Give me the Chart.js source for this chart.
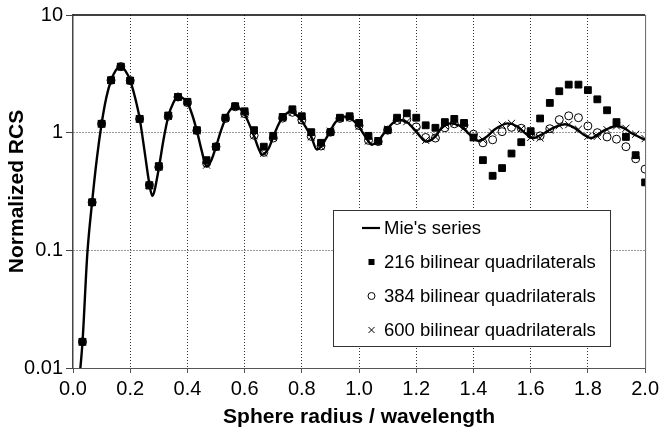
<!DOCTYPE html>
<html lang="en">
<head>
    <meta charset="UTF-8"/>
    <title>Normalized RCS</title>
    <script src="https://cdn.jsdelivr.net/npm/chart.js@4.4.0/dist/chart.umd.min.js"></script>
    <style>
        body { margin: 0; background: #fff; }
        #wrap { width: 663px; height: 432px; }
    </style>
</head>
<body>

<div id="wrap">
    <canvas id="chart" width="663" height="432"></canvas>
</div>

<script>

    // sphere radius / wavelength of the computed points
    const radius = [0.033, 0.067, 0.100, 0.133, 0.167, 0.200, 0.233, 0.267, 0.300, 0.333,
        0.367, 0.400, 0.433, 0.467, 0.500, 0.533, 0.567, 0.600, 0.633, 0.667,
        0.700, 0.733, 0.767, 0.800, 0.833, 0.867, 0.900, 0.933, 0.967, 1.000,
        1.033, 1.067, 1.100, 1.133, 1.167, 1.200, 1.233, 1.267, 1.300, 1.333,
        1.367, 1.400, 1.433, 1.467, 1.500, 1.533, 1.567, 1.600, 1.633, 1.667,
        1.700, 1.733, 1.767, 1.800, 1.833, 1.867, 1.900, 1.933, 1.967, 2.000];

    const quad216 = [0.0167, 0.256, 1.19, 2.79, 3.64, 2.77, 1.31, 0.355, 0.52, 1.40,
        2.01, 1.83, 1.05, 0.584, 0.76, 1.34, 1.68, 1.52, 1.05, 0.76,
        0.94, 1.36, 1.58, 1.38, 1.01, 0.82, 1.01, 1.34, 1.38, 1.21,
        0.94, 0.85, 1.05, 1.34, 1.46, 1.34, 1.155, 1.10, 1.23, 1.31,
        1.21, 0.91, 0.584, 0.43, 0.50, 0.665, 0.83, 1.03, 1.32, 1.79,
        2.25, 2.56, 2.56, 2.30, 1.92, 1.55, 1.23, 0.92, 0.644, 0.378];

    const quad384 = [0.0167, 0.256, 1.19, 2.79, 3.64, 2.77, 1.31, 0.36, 0.51, 1.38,
        2.01, 1.80, 1.04, 0.55, 0.76, 1.32, 1.66, 1.45, 0.95, 0.68,
        0.90, 1.33, 1.49, 1.28, 0.93, 0.77, 1.01, 1.32, 1.35, 1.15,
        0.86, 0.84, 1.05, 1.27, 1.30, 1.12, 0.91, 0.90, 1.10, 1.19,
        1.16, 0.97, 0.82, 0.87, 1.02, 1.11, 1.09, 0.97, 0.94, 1.08,
        1.29, 1.39, 1.34, 1.14, 1.00, 0.92, 0.88, 0.76, 0.60, 0.49];

    const quad600 = [0.0167, 0.256, 1.19, 2.79, 3.64, 2.77, 1.31, 0.36, 0.51, 1.38,
        2.01, 1.80, 1.04, 0.53, 0.76, 1.32, 1.66, 1.44, 0.94, 0.67,
        0.91, 1.34, 1.49, 1.27, 0.92, 0.76, 1.03, 1.32, 1.34, 1.13,
        0.85, 0.85, 1.07, 1.27, 1.24, 1.03, 0.86, 0.92, 1.14, 1.20,
        1.10, 0.91, 0.87, 1.01, 1.16, 1.20, 1.08, 0.91, 0.90, 1.05,
        1.15, 1.17, 1.07, 0.93, 0.93, 1.06, 1.14, 1.09, 0.97, 0.89];

    // Mie's series
    const mieX = [0.025, 0.0333, 0.05, 0.0667, 0.0833, 0.1, 0.1167, 0.1333, 0.15, 0.165,
        0.1833, 0.2, 0.2167, 0.2333, 0.25, 0.2667, 0.277, 0.2833, 0.3, 0.3167,
        0.3333, 0.35, 0.367, 0.3833, 0.4, 0.4167, 0.4333, 0.45, 0.467, 0.4833,
        0.5, 0.5167, 0.5333, 0.55, 0.5625, 0.5833, 0.6, 0.6167, 0.6333, 0.65,
        0.662, 0.6833, 0.7, 0.7167, 0.7333, 0.758, 0.7833, 0.8, 0.8167, 0.8333,
        0.852, 0.8667, 0.8833, 0.9, 0.9167, 0.948, 0.9667, 0.9833, 1.0, 1.0167,
        1.0333, 1.044, 1.0667, 1.0833, 1.1, 1.1167, 1.14, 1.1667, 1.1833, 1.2,
        1.2167, 1.235, 1.2667, 1.2833, 1.3, 1.32, 1.35, 1.3667, 1.3833, 1.4,
        1.417, 1.4333, 1.45, 1.4667, 1.4833, 1.52, 1.55, 1.5667, 1.5833, 1.61,
        1.6333, 1.65, 1.6667, 1.6833, 1.72, 1.75, 1.7667, 1.7833, 1.812, 1.8333,
        1.85, 1.8667, 1.9, 1.9333, 1.95, 1.9667, 2.0];

    const mieY = [0.0095, 0.0167, 0.093, 0.256, 0.6, 1.19, 2.0, 2.79, 3.4, 3.66,
        3.35, 2.77, 2.0, 1.31, 0.7, 0.37, 0.29, 0.31, 0.5, 0.88,
        1.38, 1.78, 2.02, 1.97, 1.8, 1.42, 1.03, 0.7, 0.515, 0.58,
        0.76, 1.03, 1.32, 1.57, 1.66, 1.6, 1.43, 1.17, 0.93, 0.72,
        0.65, 0.73, 0.92, 1.15, 1.35, 1.5, 1.4, 1.26, 1.08, 0.92,
        0.72, 0.76, 0.88, 1.04, 1.22, 1.37, 1.34, 1.25, 1.12, 0.97,
        0.84, 0.79, 0.85, 0.96, 1.08, 1.2, 1.28, 1.23, 1.13, 1.02,
        0.91, 0.84, 0.93, 1.06, 1.15, 1.2, 1.15, 1.08, 0.98, 0.91,
        0.85, 0.88, 0.94, 1.03, 1.1, 1.2, 1.14, 1.06, 0.98, 0.9,
        0.95, 1.0, 1.06, 1.11, 1.18, 1.11, 1.04, 0.97, 0.9, 0.96,
        1.02, 1.07, 1.14, 1.07, 1.0, 0.95, 0.87];

    const yTickValues = [0.01, 0.1, 1, 10];
    const yTickLabels = ['0.01', '0.1', '1', '10'];

    const legendLabels = ["Mie's series", '216 bilinear quadrilaterals',
        '384 bilinear quadrilaterals', '600 bilinear quadrilaterals'];

    const FONT = "'Liberation Sans', Arial, sans-serif";

    function pairs(xs, ys) {
        return xs.map((x, i) => ({x: x, y: ys[i]}));
    }

    // top and right frame lines plus the boxed legend inside the plot
    const framePlugin = {
        id: 'frame',
        afterDraw(chart) {
            const ctx = chart.ctx;
            const a = chart.chartArea;
            ctx.save();
            ctx.strokeStyle = '#000';
            ctx.lineWidth = 1.5;
            ctx.beginPath();
            ctx.moveTo(a.left, a.top);
            ctx.lineTo(a.right, a.top);
            ctx.stroke();
            ctx.strokeStyle = '#666';
            ctx.lineWidth = 1;
            ctx.beginPath();
            ctx.moveTo(a.right + 0.5, a.top);
            ctx.lineTo(a.right + 0.5, a.bottom);
            ctx.stroke();

            // legend box
            const bx = 333, by = 210, bw = 277, bh = 136;
            ctx.fillStyle = '#fff';
            ctx.fillRect(bx, by, bw, bh);
            ctx.strokeStyle = '#333';
            ctx.lineWidth = 1;
            ctx.strokeRect(bx + 0.5, by + 0.5, bw, bh);

            const mx = 371.5, tx = 384;
            const rows = [228, 262, 296, 330];
            ctx.strokeStyle = '#000';
            ctx.fillStyle = '#000';

            ctx.lineWidth = 2.2;
            ctx.beginPath();
            ctx.moveTo(362, rows[0]);
            ctx.lineTo(380, rows[0]);
            ctx.stroke();

            ctx.fillRect(mx - 3, rows[1] - 3, 6, 6);

            ctx.lineWidth = 1;
            ctx.beginPath();
            ctx.arc(mx, rows[2], 3.5, 0, Math.PI * 2);
            ctx.stroke();

            ctx.beginPath();
            ctx.moveTo(mx - 3, rows[3] - 3);
            ctx.lineTo(mx + 3, rows[3] + 3);
            ctx.moveTo(mx - 3, rows[3] + 3);
            ctx.lineTo(mx + 3, rows[3] - 3);
            ctx.stroke();

            ctx.font = '18.5px ' + FONT;
            ctx.textBaseline = 'middle';
            ctx.textAlign = 'left';
            legendLabels.forEach((t, i) => ctx.fillText(t, tx, rows[i] + 1));
            ctx.restore();
        }
    };

    const edgeless = (ctx) => {
        const n = ctx.scale.ticks.length;
        return (ctx.index === 0 || ctx.index === n - 1) ? 'rgba(0,0,0,0)' : '#333';
    };

    const ctx = document.getElementById('chart').getContext('2d');
    const myChart = new Chart(ctx, {
        type: 'scatter',
        data: {
            datasets: [
                {
                    label: legendLabels[0],
                    data: pairs(mieX, mieY),
                    showLine: true,
                    borderColor: '#000',
                    borderWidth: 2.4,
                    pointRadius: 0,
                    cubicInterpolationMode: 'monotone',
                    order: 4
                },
                {
                    label: legendLabels[1],
                    data: pairs(radius, quad216),
                    pointStyle: 'rect',
                    pointRadius: 4.8,
                    backgroundColor: '#000',
                    borderColor: '#000',
                    borderWidth: 1,
                    order: 3
                },
                {
                    label: legendLabels[2],
                    data: pairs(radius, quad384),
                    pointStyle: 'circle',
                    pointRadius: 4,
                    backgroundColor: 'rgba(0,0,0,0)',
                    borderColor: '#000',
                    borderWidth: 1,
                    order: 2
                },
                {
                    label: legendLabels[3],
                    data: pairs(radius, quad600),
                    pointStyle: 'crossRot',
                    pointRadius: 5,
                    borderColor: '#000',
                    borderWidth: 1,
                    order: 1
                }
            ]
        },
        options: {
            responsive: false,
            animation: false,
            events: [],
            layout: {
                padding: {top: 13, right: 15, left: 0, bottom: 0}
            },
            scales: {
                x: {
                    type: 'linear',
                    min: 0,
                    max: 2,
                    afterFit: (scale) => { scale.height = 64; },
                    ticks: {
                        stepSize: 0.2,
                        color: '#000',
                        padding: 4,
                        maxRotation: 0,
                        autoSkip: false,
                        font: {family: FONT, size: 20},
                        callback: (v) => v.toFixed(1)
                    },
                    grid: {
                        color: edgeless,
                        tickColor: '#555',
                        tickLength: 5,
                        lineWidth: 1
                    },
                    border: {
                        display: true,
                        color: '#555',
                        width: 1,
                        dash: [1, 2]
                    },
                    title: {
                        display: true,
                        text: 'Sphere radius / wavelength',
                        color: '#000',
                        font: {family: FONT, size: 21, weight: 'bold'},
                        padding: {top: 0, bottom: 2}
                    }
                },
                y: {
                    type: 'logarithmic',
                    min: 0.01,
                    max: 10,
                    afterFit: (scale) => { scale.width = 73; },
                    afterBuildTicks: (scale) => {
                        scale.ticks = yTickValues.map(v => ({value: v}));
                    },
                    ticks: {
                        color: '#000',
                        padding: 3,
                        font: {family: FONT, size: 20},
                        callback: (v, i) => yTickLabels[i]
                    },
                    grid: {
                        color: edgeless,
                        tickColor: '#444',
                        tickLength: 7,
                        lineWidth: 1
                    },
                    border: {
                        display: true,
                        color: '#444',
                        width: 1.5,
                        dash: [1, 2]
                    },
                    title: {
                        display: true,
                        text: 'Normalized RCS',
                        color: '#000',
                        font: {family: FONT, size: 21, weight: 'bold'},
                        padding: {top: 5, bottom: 0}
                    }
                }
            },
            plugins: {
                legend: {display: false},
                tooltip: {enabled: false},
                title: {display: false}
            }
        },
        plugins: [framePlugin]
    });

</script>

</body>
</html>
